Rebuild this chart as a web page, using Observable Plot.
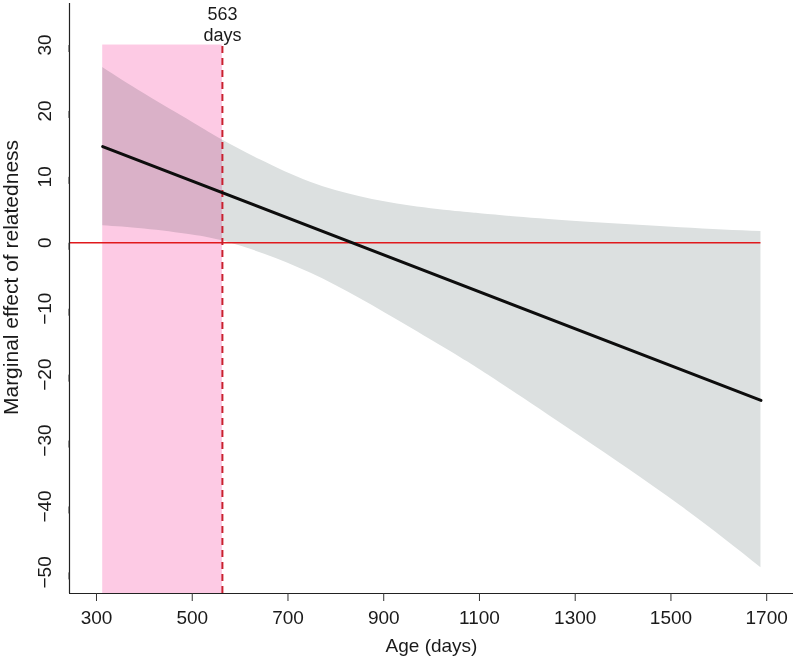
<!DOCTYPE html>
<html>
<head>
<meta charset="utf-8">
<script src="https://cdn.jsdelivr.net/npm/d3@7"></script>
<script src="https://cdn.jsdelivr.net/npm/@observablehq/plot@0.6"></script>
<style>
  html, body { margin: 0; padding: 0; background: #fff; }
  svg { display: block; }
</style>
</head>
<body>
<div id="chart"></div>
<script>
// Confidence band
const bandAge   = [313, 400, 500, 563, 642, 747, 851, 956, 1060, 1102, 1165, 1311, 1520, 1688];
const bandUpper = [26.6, 22.6, 18.3, 15.6, 12.6, 9.2, 7.0, 5.6, 4.7, 4.4, 4.0, 3.2, 2.3, 1.7];
const bandLower = [2.6, 2.1, 1.2, 0.3, -1.5, -4.6, -8.5, -12.9, -17.4, -19.3, -22.3, -29.4, -39.9, -49.3];

// Fitted marginal effect line
const lineAge   = [313, 1688];
const lineValue = [14.6, -23.9];

// Threshold age and highlighted window
const threshold = 563;
const windowStart = 313;
const windowTop = 30;

// Axes
const xTicks = [300, 500, 700, 900, 1100, 1300, 1500, 1700];
const yTicks = [-50, -40, -30, -20, -10, 0, 10, 20, 30];
const xDomain = [243.6, 1756];
const yDomain = [-53.2, 36.3];

const band = bandAge.map((a, i) => ({age: a, lo: bandLower[i], hi: bandUpper[i]}));
const fit = lineAge.map((a, i) => ({age: a, v: lineValue[i]}));

const chart = Plot.plot({
  width: 796,
  height: 663,
  marginLeft: 69,
  marginRight: 3,
  marginTop: 3,
  marginBottom: 70,
  x: {domain: xDomain},
  y: {domain: yDomain},
  style: {fontFamily: "'Liberation Sans', Arial, Helvetica, sans-serif", fontSize: "19px", color: "#1a1a1a", background: "#fff"},
  marks: [
    Plot.rect([{x1: windowStart, x2: threshold}], {x1: "x1", x2: "x2", y1: yDomain[0], y2: windowTop, fill: "#fdcae4"}),
    Plot.areaY(band, {x: "age", y1: "lo", y2: "hi", fill: "#dce0e0", curve: "natural", mixBlendMode: "multiply"}),
    Plot.ruleY([0], {x1: xDomain[0], x2: bandAge[bandAge.length - 1], stroke: "#e0191c", strokeWidth: 1.6}),
    Plot.ruleX([threshold], {y1: yDomain[0], y2: windowTop, stroke: "#c9202f", strokeWidth: 2, strokeDasharray: "7,5"}),
    Plot.line(fit, {x: "age", y: "v", stroke: "#0d0d0d", strokeWidth: 3}),
    Plot.ruleX([xDomain[0]], {stroke: "#222", strokeWidth: 1.2}),
    Plot.ruleY([yDomain[0]], {stroke: "#222", strokeWidth: 1.2}),
    Plot.axisX({ticks: xTicks, tickFormat: d => String(d), tickSize: 8, tickPadding: 9, label: null, fontSize: 19, stroke: "#333"}),
    Plot.axisY({ticks: yTicks, tickFormat: d => d < 0 ? "\u2212" + Math.abs(d) : String(d), tickSize: 7, tickPadding: 18, rotate: -90, textAnchor: "middle", lineAnchor: "middle", label: null, fontSize: 19, stroke: "#333"}),
    Plot.text([threshold], {x: d => d, text: d => `${d}\ndays`, frameAnchor: "top", lineAnchor: "top", dy: 1, lineHeight: 1.2, fontSize: 18, fill: "#1a1a1a"}),
    Plot.text(["Age (days)"], {frameAnchor: "bottom", lineAnchor: "top", dy: 45, fontSize: 19, fill: "#1a1a1a"}),
    Plot.text(["Marginal effect of relatedness"], {frameAnchor: "left", rotate: -90, textAnchor: "middle", lineAnchor: "middle", dx: -58, dy: -21, fontSize: 21, fill: "#1a1a1a"})
  ]
});
document.getElementById("chart").appendChild(chart);
</script>
</body>
</html>
